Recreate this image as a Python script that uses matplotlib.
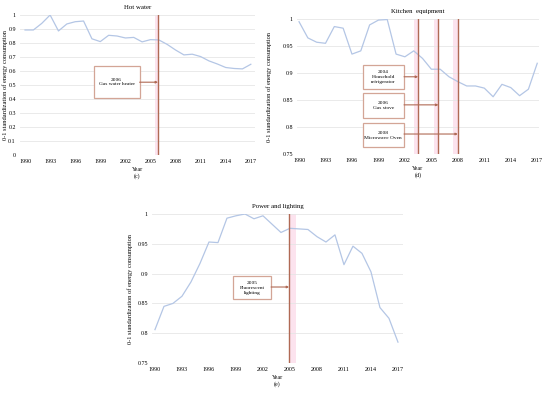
import matplotlib.pyplot as plt
from matplotlib.patches import Rectangle

plt.rcParams["font.family"] = ["Liberation Serif", "DejaVu Serif"]

years = list(range(1990, 2018))
year_ticks = list(range(1990, 2018, 3))

hot_water = [0.893, 0.893, 0.94, 1.0, 0.886, 0.936, 0.952, 0.957, 0.83, 0.81,
             0.855, 0.85, 0.836, 0.84, 0.808, 0.824, 0.822, 0.79, 0.75, 0.715,
             0.72, 0.703, 0.672, 0.65, 0.625, 0.618, 0.615, 0.648]
kitchen = [0.995, 0.965, 0.957, 0.955, 0.986, 0.983, 0.935, 0.941, 0.989, 0.998,
           0.999, 0.935, 0.930, 0.941, 0.927, 0.907, 0.907, 0.893, 0.884, 0.876,
           0.876, 0.872, 0.856, 0.879, 0.873, 0.858, 0.870, 0.918]
lighting = [0.806, 0.845, 0.850, 0.862, 0.886, 0.917, 0.953, 0.952, 0.993, 0.997,
            1.0, 0.992, 0.997, 0.983, 0.969, 0.976, 0.975, 0.974, 0.962, 0.953,
            0.965, 0.915, 0.946, 0.934, 0.903, 0.843, 0.825, 0.785]

hot_events = [2005.9]
hot_labels = ["2006\nGas water heater"]
kitchen_events = [2003.5, 2005.8, 2008.0]
kitchen_labels = ["2004\nHousehold\nrefrigerator", "2006\nGas stove", "2008\nMicrowave Oven"]
light_events = [2004.9]
light_labels = ["2005\nFluorescent\nlighting"]

LINE = "#b4c6e5"
EVENT = "#b06a55"
BOXEDGE = "#d3a596"
PINK = "#fce3ee"
GRID = "#e6e6e6"
FS = 4.3
BOXFS = 3.9


def panel(ax, values, title, tag, ylim, yticks, ylabels, xlim, ylab_x):
    ax.plot(years, values, color=LINE, lw=0.9, zorder=3)
    ax.set_xlim(*xlim)
    ax.set_ylim(*ylim)
    ax.set_xticks(year_ticks)
    ax.set_xticklabels([str(y) for y in year_ticks], fontsize=FS)
    ax.set_yticks(yticks)
    ax.set_yticklabels(ylabels, fontsize=FS)
    ax.tick_params(length=0, pad=3)
    ax.grid(axis="y", color=GRID, lw=0.6)
    for s in ax.spines.values():
        s.set_visible(False)
    ax.set_title(title, fontsize=4.9, pad=4)
    ax.set_ylabel("0-1 standardization of energy consumption", fontsize=4.6)
    ax.yaxis.set_label_coords(ylab_x, 0.5)
    ax.set_xlabel("Year\n(" + tag + ")", fontsize=FS, labelpad=2, linespacing=1.3)


def event(ax, x, label, box, conn_y, band):
    x0, x1, y0, y1 = box
    ax.axvspan(x + band[0], x + band[1], color=PINK, lw=0, zorder=1)
    ax.axvline(x, color=EVENT, lw=1.0, zorder=4)
    ax.add_patch(Rectangle((x0, y0), x1 - x0, y1 - y0, fill=True, facecolor="white",
                           edgecolor=BOXEDGE, lw=0.9, zorder=5))
    ax.text((x0 + x1) / 2, (y0 + y1) / 2, label, fontsize=BOXFS, ha="center", va="center",
            linespacing=1.3, zorder=6)
    ax.annotate("", xy=(x, conn_y), xytext=(x1, conn_y),
                arrowprops=dict(arrowstyle="-|>", color=EVENT, lw=0.8, mutation_scale=3,
                                shrinkA=0, shrinkB=0), zorder=6)


fig = plt.figure(figsize=(5.5, 3.94), dpi=100)

ax_c = fig.add_axes([20 / 550, 1 - 155 / 394, 235 / 550, 140 / 394])
panel(ax_c, hot_water, "Hot water", "c", (0, 1), [i / 10 for i in range(11)],
      ["0"] + ["0.%d" % i for i in range(1, 10)] + ["1"], (1989.4, 2017.5), -0.051)
event(ax_c, hot_events[0], hot_labels[0], (1998.2, 2003.7, 0.407, 0.636), 0.52, (-0.4, 0.0))

ax_d = fig.add_axes([297 / 550, 1 - 154 / 394, 242 / 550, 135 / 394])
panel(ax_d, kitchen, "Kitchen  equipment", "d", (0.75, 1),
      [0.75, 0.8, 0.85, 0.9, 0.95, 1.0], ["0.75", "0.8", "0.85", "0.9", "0.95", "1"],
      (1989.77, 2017.2), -0.103)
kitchen_boxes = [(1997.2, 2001.9, 0.870, 0.915), (1997.2, 2001.9, 0.817, 0.863),
                 (1997.2, 2001.9, 0.763, 0.807)]
kitchen_conn = [0.893, 0.841, 0.787]
for x, lab, b, cy in zip(kitchen_events, kitchen_labels, kitchen_boxes, kitchen_conn):
    event(ax_d, x, lab, b, cy, (-0.5, 0.0))

ax_e = fig.add_axes([152 / 550, 1 - 363 / 394, 251 / 550, 149 / 394])
panel(ax_e, lighting, "Power and lighting", "e", (0.75, 1),
      [0.75, 0.8, 0.85, 0.9, 0.95, 1.0], ["0.75", "0.8", "0.85", "0.9", "0.95", "1"],
      (1989.67, 2017.56), -0.076)
event(ax_e, light_events[0], light_labels[0], (1998.7, 2002.9, 0.857, 0.896), 0.8775, (0.0, 0.8))

fig.savefig("out.png", dpi=100)
